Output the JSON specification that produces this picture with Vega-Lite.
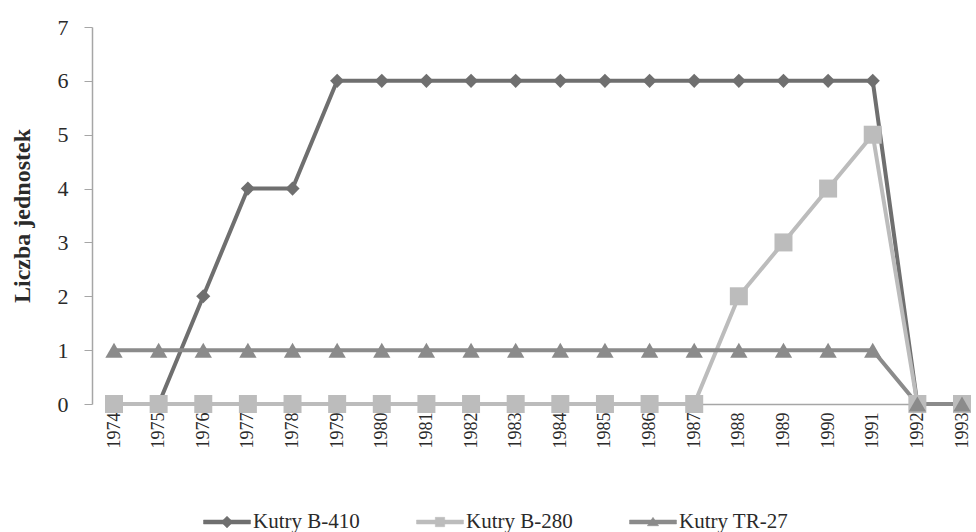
{
  "$schema": "https://vega.github.io/schema/vega-lite/v6.json",
  "width": 884,
  "height": 377,
  "autosize": {"type": "none"},
  "padding": {"left": 92, "top": 27, "right": 0, "bottom": 128},
  "background": "white",
  "config": {
    "view": {"stroke": null},
    "font": "Liberation Serif",
    "axis": {"grid": false, "labelFont": "Liberation Serif", "titleFont": "Liberation Serif", "labelColor": "#2a2a2a", "titleColor": "#2a2a2a", "domainColor": "#a6a6a6", "tickColor": "#a6a6a6"}
  },
  "data": {
    "values": [
      {"year": "1974", "series": "Kutry B-410", "value": 0},
      {"year": "1975", "series": "Kutry B-410", "value": 0},
      {"year": "1976", "series": "Kutry B-410", "value": 2},
      {"year": "1977", "series": "Kutry B-410", "value": 4},
      {"year": "1978", "series": "Kutry B-410", "value": 4},
      {"year": "1979", "series": "Kutry B-410", "value": 6},
      {"year": "1980", "series": "Kutry B-410", "value": 6},
      {"year": "1981", "series": "Kutry B-410", "value": 6},
      {"year": "1982", "series": "Kutry B-410", "value": 6},
      {"year": "1983", "series": "Kutry B-410", "value": 6},
      {"year": "1984", "series": "Kutry B-410", "value": 6},
      {"year": "1985", "series": "Kutry B-410", "value": 6},
      {"year": "1986", "series": "Kutry B-410", "value": 6},
      {"year": "1987", "series": "Kutry B-410", "value": 6},
      {"year": "1988", "series": "Kutry B-410", "value": 6},
      {"year": "1989", "series": "Kutry B-410", "value": 6},
      {"year": "1990", "series": "Kutry B-410", "value": 6},
      {"year": "1991", "series": "Kutry B-410", "value": 6},
      {"year": "1992", "series": "Kutry B-410", "value": 0},
      {"year": "1993", "series": "Kutry B-410", "value": 0},
      {"year": "1974", "series": "Kutry B-280", "value": 0},
      {"year": "1975", "series": "Kutry B-280", "value": 0},
      {"year": "1976", "series": "Kutry B-280", "value": 0},
      {"year": "1977", "series": "Kutry B-280", "value": 0},
      {"year": "1978", "series": "Kutry B-280", "value": 0},
      {"year": "1979", "series": "Kutry B-280", "value": 0},
      {"year": "1980", "series": "Kutry B-280", "value": 0},
      {"year": "1981", "series": "Kutry B-280", "value": 0},
      {"year": "1982", "series": "Kutry B-280", "value": 0},
      {"year": "1983", "series": "Kutry B-280", "value": 0},
      {"year": "1984", "series": "Kutry B-280", "value": 0},
      {"year": "1985", "series": "Kutry B-280", "value": 0},
      {"year": "1986", "series": "Kutry B-280", "value": 0},
      {"year": "1987", "series": "Kutry B-280", "value": 0},
      {"year": "1988", "series": "Kutry B-280", "value": 2},
      {"year": "1989", "series": "Kutry B-280", "value": 3},
      {"year": "1990", "series": "Kutry B-280", "value": 4},
      {"year": "1991", "series": "Kutry B-280", "value": 5},
      {"year": "1992", "series": "Kutry B-280", "value": 0},
      {"year": "1993", "series": "Kutry B-280", "value": 0},
      {"year": "1974", "series": "Kutry TR-27", "value": 1},
      {"year": "1975", "series": "Kutry TR-27", "value": 1},
      {"year": "1976", "series": "Kutry TR-27", "value": 1},
      {"year": "1977", "series": "Kutry TR-27", "value": 1},
      {"year": "1978", "series": "Kutry TR-27", "value": 1},
      {"year": "1979", "series": "Kutry TR-27", "value": 1},
      {"year": "1980", "series": "Kutry TR-27", "value": 1},
      {"year": "1981", "series": "Kutry TR-27", "value": 1},
      {"year": "1982", "series": "Kutry TR-27", "value": 1},
      {"year": "1983", "series": "Kutry TR-27", "value": 1},
      {"year": "1984", "series": "Kutry TR-27", "value": 1},
      {"year": "1985", "series": "Kutry TR-27", "value": 1},
      {"year": "1986", "series": "Kutry TR-27", "value": 1},
      {"year": "1987", "series": "Kutry TR-27", "value": 1},
      {"year": "1988", "series": "Kutry TR-27", "value": 1},
      {"year": "1989", "series": "Kutry TR-27", "value": 1},
      {"year": "1990", "series": "Kutry TR-27", "value": 1},
      {"year": "1991", "series": "Kutry TR-27", "value": 1},
      {"year": "1992", "series": "Kutry TR-27", "value": 0},
      {"year": "1993", "series": "Kutry TR-27", "value": 0}
    ]
  },
  "encoding": {
    "x": {
      "field": "year", "type": "ordinal",
      "scale": {"type": "point", "range": [22, 870], "padding": 0},
      "axis": {"title": null, "labelAngle": -90, "labelAlign": "right", "labelBaseline": "middle", "labelFontSize": 18, "labelPadding": 8, "ticks": false, "domainWidth": 1.5}
    },
    "y": {
      "field": "value", "type": "quantitative",
      "scale": {"domain": [0, 7], "nice": false},
      "axis": {"title": "Liczba jednostek", "titleFontWeight": "bold", "titleFontSize": 24, "titlePadding": 23, "values": [0, 1, 2, 3, 4, 5, 6, 7], "labelFontSize": 22, "labelPadding": 16, "tickSize": 8, "domainWidth": 1.5}
    }
  },
  "layer": [
    {
      "mark": {"type": "line", "strokeWidth": 4},
      "encoding": {
        "color": {
          "field": "series", "type": "nominal",
          "scale": {"domain": ["Kutry B-410", "Kutry B-280", "Kutry TR-27"], "range": ["#6f6f6f", "#bcbcbc", "#8b8b8b"]},
          "legend": {
            "title": null, "orient": "none", "legendX": 111, "legendY": 471, "direction": "horizontal", "columns": 3, "columnPadding": 55,
            "labelFont": "Liberation Serif", "labelFontSize": 21, "labelColor": "#2a2a2a", "labelOffset": 2,
            "symbolSize": 2209,
            "encode": {
              "symbols": {
                "update": {
                  "shape": {"signal": "datum.value === 'Kutry B-410' ? 'M-1,-0.085H1V0.085H-1Z M0,-0.25L0.25,0L0,0.25L-0.25,0Z' : datum.value === 'Kutry B-280' ? 'M-1,-0.085H1V0.085H-1Z M-0.2,-0.2H0.2V0.2H-0.2Z' : 'M-1,-0.085H1V0.085H-1Z M0,-0.2L0.24,0.16H-0.24Z'"},
                  "fill": {"signal": "scale('color', datum.value)"},
                  "stroke": {"signal": "scale('color', datum.value)"},
                  "strokeWidth": {"value": 0.5},
                  "opacity": {"value": 1},
                  "fillOpacity": {"value": 1}
                }
              }
            }
          }
        }
      }
    },
    {
      "transform": [{"filter": "datum.series === 'Kutry B-410'"}],
      "mark": {"type": "point", "filled": true, "opacity": 1, "shape": "diamond", "size": 200, "color": "#6f6f6f"}
    },
    {
      "transform": [{"filter": "datum.series === 'Kutry B-280'"}],
      "mark": {"type": "point", "filled": true, "opacity": 1, "shape": "square", "size": 324, "color": "#bcbcbc"}
    },
    {
      "transform": [{"filter": "datum.series === 'Kutry TR-27'"}],
      "mark": {"type": "point", "filled": true, "opacity": 1, "shape": "triangle-up", "size": 300, "color": "#8b8b8b"}
    }
  ]
}
